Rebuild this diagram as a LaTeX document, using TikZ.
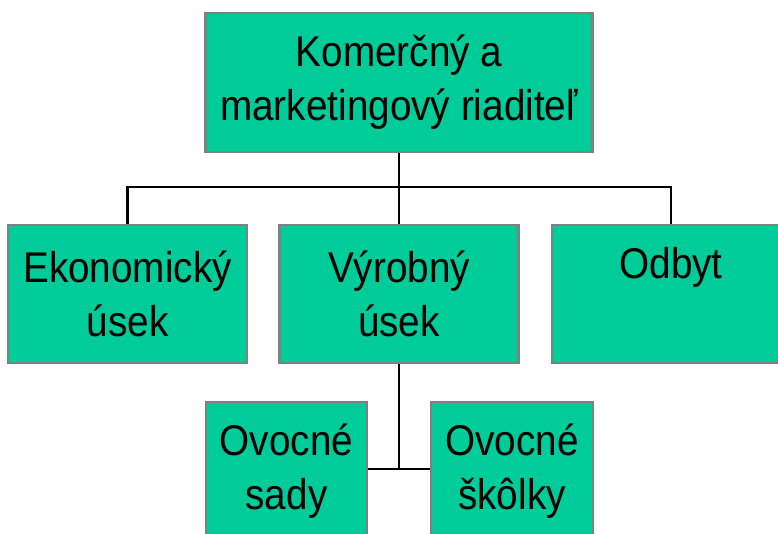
\documentclass[tikz,border=0pt]{standalone}
\usepackage{fontspec}
\setmainfont{Liberation Sans}[FakeStretch=0.9]
\definecolor{boxfill}{RGB}{0,204,153}
\definecolor{boxline}{RGB}{128,128,128}
\begin{document}
\begin{tikzpicture}[x=1pt,y=-1pt,
  orgbox/.style={rectangle, draw=boxline, line width=2.5pt, fill=boxfill,
    align=center, inner sep=0pt, font=\fontsize{43}{54}\selectfont},
  link/.style={draw=black, line width=2.8pt}]
\useasboundingbox (0,0) rectangle (778,533);
\clip (0,0) rectangle (778,533);
\node[orgbox, minimum width=387pt, minimum height=139pt] (top) at (399,82.5) {Komerčný a\\marketingový riaditeľ};
\node[orgbox, minimum width=239pt, minimum height=138pt] (eko) at (127.5,294) {Ekonomický\\úsek};
\node[orgbox, minimum width=239pt, minimum height=138pt] (vyr) at (399,294) {Výrobný\\úsek};
\node[orgbox, minimum width=238pt, minimum height=138pt] (odb) at (671,294) {Odbyt\\\phantom{Odbyt}};
\node[orgbox, minimum width=161pt, minimum height=138pt] (sady) at (286.5,471) {Ovocné\\sady};
\node[orgbox, minimum width=162pt, minimum height=138pt] (skol) at (512,471) {Ovocné\\škôlky};
\coordinate (bus) at (399,187);
\coordinate (bus2) at (399,469);
\draw[link] (top.south) -- (bus);
\draw[link] (eko.north) |- (bus) -| (odb.north);
\draw[link] (bus) -- (vyr.north);
\draw[link] (vyr.south) -- (bus2);
\draw[link] (sady.east |- bus2) -- (skol.west |- bus2);
\end{tikzpicture}
\end{document}
